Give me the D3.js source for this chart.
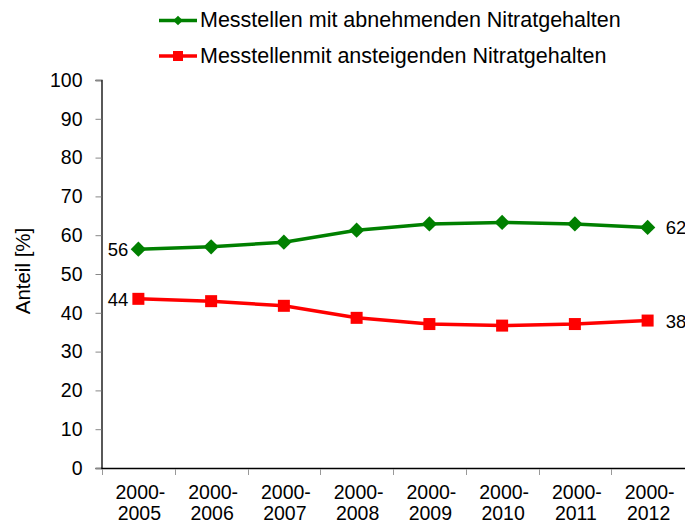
<!DOCTYPE html>
<meta charset="utf-8">
<script src="https://d3js.org/d3.v7.min.js"></script>
<style>
  body { margin: 0; background: #fff; }
  text { font-family: "Liberation Sans", Arial, sans-serif; fill: #000; }
</style>
<svg id="chart" width="685" height="524"></svg>
<script>
  // data
  var categories = ["2000-2005", "2000-2006", "2000-2007", "2000-2008",
                    "2000-2009", "2000-2010", "2000-2011", "2000-2012"];
  var abnehmend = [56.4, 57.0, 58.2, 61.3, 62.9, 63.3, 62.9, 62.0];
  var ansteigend = [43.6, 43.0, 41.8, 38.7, 37.1, 36.7, 37.1, 38.0];
  var yTicks = [0, 10, 20, 30, 40, 50, 60, 70, 80, 90, 100];
  var seriesNames = ["Messtellen mit abnehmenden Nitratgehalten",
                     "Messtellenmit ansteigenden Nitratgehalten"];

  var svg = d3.select("#chart");

  var x = d3.scaleBand().domain(categories).range([102, 684]);
  var y = d3.scaleLinear().domain([0, 100]).range([468, 80]);

  // y axis
  var yAxis = svg.append("g")
    .attr("transform", "translate(101.5,0)")
    .call(d3.axisLeft(y).tickValues(yTicks).tickSize(6).tickPadding(13));
  yAxis.select(".domain").attr("stroke", "#000").attr("stroke-width", 1.3);
  yAxis.selectAll(".tick line").attr("stroke", "#888");
  yAxis.selectAll(".tick text")
    .style("font-size", "19.5px")
    .style("font-family", "Liberation Sans, Arial, sans-serif");

  // x axis with ticks at category boundaries
  svg.append("line")
    .attr("x1", 101.5).attr("x2", 685)
    .attr("y1", 468.5).attr("y2", 468.5)
    .attr("stroke", "#000").attr("stroke-width", 1.3);

  svg.append("g")
    .selectAll("line")
    .data(categories)
    .enter()
    .append("line")
    .attr("x1", function (d) { return Math.round(x(d)) + 0.5; })
    .attr("x2", function (d) { return Math.round(x(d)) + 0.5; })
    .attr("y1", 469).attr("y2", 475)
    .attr("stroke", "#999");

  var xl = svg.append("g")
    .selectAll("text")
    .data(categories)
    .enter()
    .append("text")
    .attr("text-anchor", "middle")
    .style("font-size", "19.5px");
  xl.append("tspan")
    .attr("x", function (d) { return x(d) + x.bandwidth() / 2 + 2; })
    .attr("y", 498.5)
    .text(function (d) { return d.split("-")[0] + "-"; });
  xl.append("tspan")
    .attr("x", function (d) { return x(d) + x.bandwidth() / 2 + 1; })
    .attr("y", 520)
    .text(function (d) { return d.split("-")[1]; });

  // y title
  svg.append("text")
    .attr("transform", "translate(30,271) rotate(-90)")
    .attr("text-anchor", "middle")
    .style("font-size", "20.5px")
    .text("Anteil [%]");

  var line = d3.line()
    .x(function (d, i) { return x(categories[i]) + x.bandwidth() / 2; })
    .y(function (d) { return y(d); });

  var cx = function (d, i) { return x(categories[i]) + x.bandwidth() / 2; };

  // green series
  svg.append("path")
    .datum(abnehmend)
    .attr("d", line)
    .attr("fill", "none")
    .attr("stroke", "#008000")
    .attr("stroke-width", 3.5);

  svg.append("g")
    .selectAll("path")
    .data(abnehmend)
    .enter()
    .append("path")
    .attr("d", d3.symbol().type(d3.symbolDiamond2).size(150))
    .attr("transform", function (d, i) { return "translate(" + cx(d, i) + "," + y(d) + ")"; })
    .attr("fill", "#008000");

  // red series
  svg.append("path")
    .datum(ansteigend)
    .attr("d", line)
    .attr("fill", "none")
    .attr("stroke", "#ff0000")
    .attr("stroke-width", 3.5);

  svg.append("g")
    .selectAll("rect")
    .data(ansteigend)
    .enter()
    .append("rect")
    .attr("x", function (d, i) { return cx(d, i) - 6; })
    .attr("y", function (d) { return y(d) - 6; })
    .attr("width", 12)
    .attr("height", 12)
    .attr("fill", "#ff0000");

  // data labels at first and last point
  var last = categories.length - 1;
  [abnehmend, ansteigend].forEach(function (s) {
    svg.append("text")
      .attr("x", cx(s[0], 0) - 10)
      .attr("y", y(s[0]) + 7)
      .attr("text-anchor", "end")
      .style("font-size", "18.5px")
      .text(Math.round(s[0]));
    svg.append("text")
      .attr("x", cx(s[last], last) + 18)
      .attr("y", y(s[last]) + 7)
      .attr("text-anchor", "start")
      .style("font-size", "18.5px")
      .text(Math.round(s[last]));
  });

  // legend
  var colors = ["#008000", "#ff0000"];
  var lg = svg.append("g")
    .selectAll("g")
    .data(seriesNames)
    .enter()
    .append("g")
    .attr("transform", function (d, i) { return "translate(0," + (20.5 + i * 35.5) + ")"; });
  lg.append("line")
    .attr("x1", 159).attr("x2", 197)
    .attr("stroke", function (d, i) { return colors[i]; })
    .attr("stroke-width", 3.5);
  lg.append("path")
    .attr("d", function (d, i) {
      return i === 0 ? d3.symbol().type(d3.symbolDiamond2).size(60)()
                     : "M-5,-5H5V5H-5Z";
    })
    .attr("transform", "translate(178,0)")
    .attr("fill", function (d, i) { return colors[i]; });
  lg.append("text")
    .attr("x", 200)
    .attr("y", 6.8)
    .style("font-size", "21.5px")
    .text(function (d) { return d; });
</script>
